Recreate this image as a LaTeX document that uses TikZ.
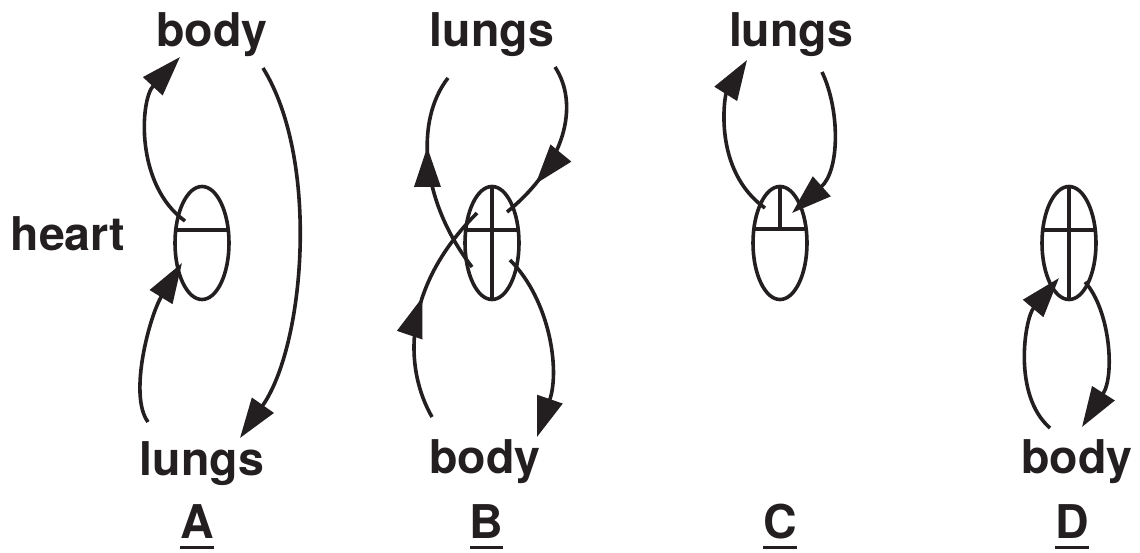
\documentclass[tikz,border=0pt]{standalone}
\usepackage{fontspec}
\setmainfont{TeX Gyre Heros}
\usetikzlibrary{arrows.meta,decorations.markings,shapes.geometric}
\definecolor{ink}{RGB}{35,31,32}
\tikzset{
  lbl/.style={font=\fontsize{46.5}{50}\selectfont\bfseries, inner sep=0pt, anchor=base, text=ink},
  heartshape/.style={ellipse, draw=ink, line width=3.6pt, minimum width=54pt, minimum height=113pt, inner sep=0pt},
  plain/.style={draw=ink, line width=3.6pt},
  flow/.style={plain, -{Triangle[length=40pt,width=26pt]}},
  midarrow/.style={plain, postaction={decorate}, decoration={markings, mark=at position #1 with {\arrow[ink]{Triangle[length=40pt,width=26pt]}}}},
  uline/.style={draw=ink, line width=3pt}
}
\begin{document}
\begin{tikzpicture}[x=1pt,y=-1pt]
\useasboundingbox (0,0) rectangle (1140,552);
% ---------- A ----------
\node[lbl] (Abody) at (212,46) {body};
\node[lbl] (heart) at (68,250) {heart};
\node[lbl] (Alungs) at (202,475) {lungs};
\node[lbl] (Alet) at (197,538) {A};
\node[heartshape] (hA) at (202,243) {};
\draw[plain] ([xshift=-26.3pt]hA.center |- 0,230) -- ([xshift=26.3pt]hA.center |- 0,230);
\coordinate (a1s) at (185,221); \coordinate (a1e) at (180,57);
\coordinate (a2s) at (148,422); \coordinate (a2e) at (182,263);
\coordinate (a3s) at (263,68);  \coordinate (a3e) at (240,438);
\draw[flow] (a1s) .. controls (135,185) and (140,100) .. (a1e);
\draw[flow] (a2s) .. controls (128,395) and (150,315) .. (a2e);
\draw[flow] (a3s) .. controls (320,160) and (305,345) .. (a3e);
% ---------- B ----------
\node[lbl] (Blungs) at (492,46) {lungs};
\node[lbl] (Bbody) at (485,473) {body};
\node[lbl] (Blet) at (486.5,538) {B};
\node[heartshape] (hB) at (492,243) {};
\draw[plain] ([xshift=-26.3pt]hB.center |- 0,230) -- ([xshift=26.3pt]hB.center |- 0,230);
\draw[plain] (hB.north) -- (hB.south);
\coordinate (b1s) at (555,67);  \coordinate (b1e) at (507,212);
\coordinate (b2s) at (472,267); \coordinate (b2e) at (448,78);
\coordinate (b3s) at (432,417); \coordinate (b3e) at (477,213);
\coordinate (b4s) at (510,260); \coordinate (b4e) at (537,437);
\draw[midarrow=0.76] (b1s) .. controls (580,105) and (565,165) .. (b1e);
\draw[midarrow=0.64] (b2s) .. controls (420,200) and (415,120) .. (b2e);
\draw[midarrow=0.55] (b3s) .. controls (405,370) and (400,290) .. (b3e);
\draw[flow] (b4s) .. controls (550,300) and (560,370) .. (b4e);
% ---------- C ----------
\node[lbl] (Clungs) at (791,46) {lungs};
\node[lbl] (Clet) at (780,538) {C};
\node[heartshape] (hC) at (780,243) {};
\draw[plain] ([xshift=-26.3pt]hC.center |- 0,229) -- ([xshift=26.3pt]hC.center |- 0,229);
\draw[plain] (hC.north) -- (hC.center |- 0,229);
\coordinate (c1s) at (765,208); \coordinate (c1e) at (747,60);
\coordinate (c2s) at (822,72);  \coordinate (c2e) at (792,213);
\draw[flow] (c1s) .. controls (712,170) and (725,95) .. (c1e);
\draw[flow] (c2s) .. controls (840,110) and (840,170) .. (c2e);
% ---------- D ----------
\node[lbl] (Dbody) at (1077,473) {body};
\node[lbl] (Dlet) at (1072,538) {D};
\node[heartshape] (hD) at (1069,243) {};
\draw[plain] ([xshift=-26.3pt]hD.center |- 0,230) -- ([xshift=26.3pt]hD.center |- 0,230);
\draw[plain] (hD.north) -- (hD.south);
\coordinate (d1s) at (1050,428); \coordinate (d1e) at (1059,278);
\coordinate (d2s) at (1085,282); \coordinate (d2e) at (1082,427);
\draw[flow] (d1s) .. controls (1012,395) and (1025,318) .. (d1e);
\draw[flow] (d2s) .. controls (1110,310) and (1115,375) .. (d2e);
% ---------- underlines ----------
\foreach \n in {Alet,Blet,Clet,Dlet}
  \draw[uline] ([yshift=-9pt]\n.base west) -- ([yshift=-9pt]\n.base east);
\end{tikzpicture}
\end{document}
